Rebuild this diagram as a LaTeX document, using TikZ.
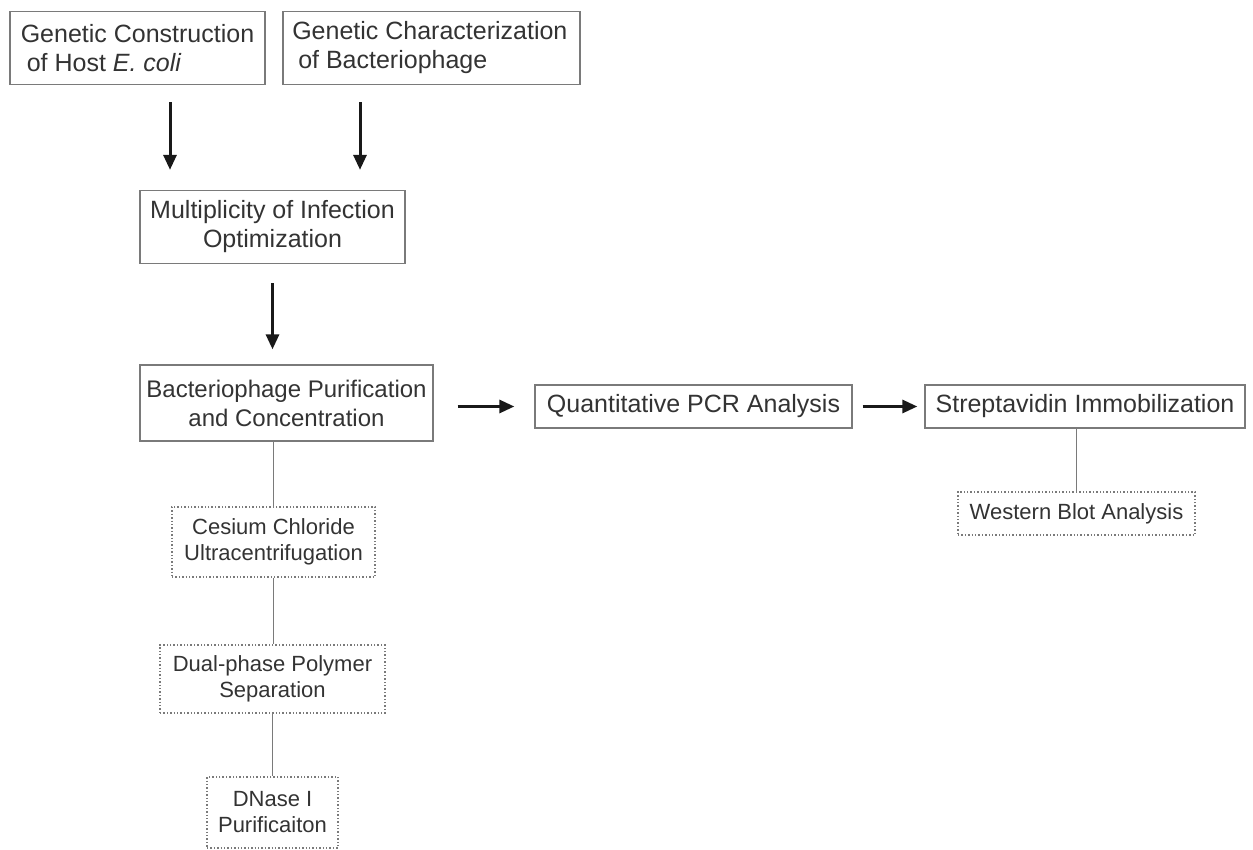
\documentclass[tikz,border=0pt]{standalone}
\usepackage{fontspec}
\setmainfont{Liberation Sans}
\usetikzlibrary{arrows.meta}
\definecolor{txt}{HTML}{333333}
\definecolor{frame}{HTML}{7A7A7A}
\begin{document}
\begin{tikzpicture}[x=1pt,y=-1pt,
  mainbox/.style={draw=frame, line width=1.3pt, text=txt, inner sep=0pt,
    font=\fontsize{25}{29}\selectfont, align=center},
  subbox/.style={draw=frame, dotted, line width=1.4pt, text=txt, inner sep=0pt,
    font=\fontsize{22}{26}\selectfont, align=center},
  arr/.style={-{Triangle[length=15pt,width=13pt]}, line width=3pt, black!90},
  link/.style={draw=frame, line width=1.3pt}]
\useasboundingbox (0,0) rectangle (1253,850);

\node[mainbox, minimum width=255pt, minimum height=73pt, align=left] (g1) at (137.5,48)
  {Genetic Construction\\\hspace{6pt}of Host \textit{E. coli}};
\node[mainbox, minimum width=297pt, minimum height=73pt, align=left] (g2) at (431.5,48)
  {Genetic Characterization\\\hspace{6pt}of Bacteriophage\hphantom{aaaaaa}};
\node[mainbox, minimum width=265pt, minimum height=73pt] (moi) at (272.5,227)
  {Multiplicity of Infection\\Optimization};
\node[mainbox, minimum width=293pt, minimum height=76pt, font=\fontsize{24}{29}\selectfont] (bp) at (286.5,403)
  {Bacteriophage Purification\\and Concentration};
\node[mainbox, minimum width=317pt, minimum height=43pt] (qpcr) at (693.5,406.5)
  {Quantitative PCR Analysis};
\node[mainbox, minimum width=320pt, minimum height=43pt] (strep) at (1085,406.5)
  {Streptavidin Immobilization};
\node[subbox, minimum width=237pt, minimum height=43pt] (wb) at (1076.5,513.5)
  {Western Blot Analysis};
\node[subbox, minimum width=203pt, minimum height=70pt] (cs) at (273.5,542)
  {Cesium Chloride\\Ultracentrifugation};
\node[subbox, minimum width=225pt, minimum height=68pt] (dp) at (272.5,679)
  {Dual-phase Polymer\\Separation};
\node[subbox, minimum width=131pt, minimum height=71pt] (dn) at (272.5,812.5)
  {DNase I\\Purificaiton};

\draw[arr, shorten <=17pt, shorten >=20pt] ([xshift=32.5pt]g1.south) -- ([xshift=32.5pt]g1.south |- moi.north);
\draw[arr, shorten <=17pt, shorten >=20pt] ([xshift=-71.5pt]g2.south) -- ([xshift=-71.5pt]g2.south |- moi.north);
\draw[arr, shorten <=19pt, shorten >=15pt] (moi.south) -- (moi.south |- bp.north);
\draw[arr, shorten <=24pt, shorten >=20pt] (bp.east |- qpcr.west) -- (qpcr.west);
\draw[arr, shorten <=10pt, shorten >=7pt] (qpcr.east) -- (strep.west);

\draw[link] (cs.north |- bp.south) -- (cs.north);
\draw[link] (cs.south) -- (cs.south |- dp.north);
\draw[link] (dp.south) -- (dn.north);
\draw[link] (wb.north |- strep.south) -- (wb.north);
\end{tikzpicture}
\end{document}
